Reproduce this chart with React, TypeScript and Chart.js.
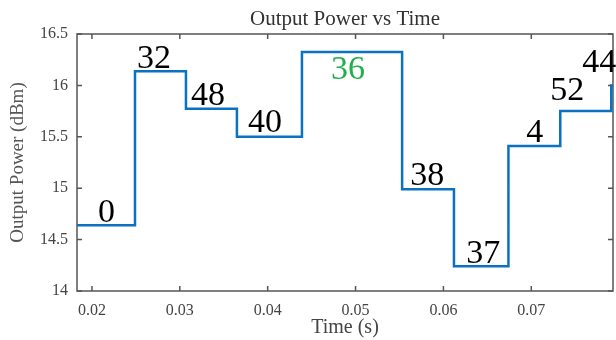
import React, { useEffect, useRef } from "react";
import { Chart, registerables } from "chart.js";

Chart.register(...registerables);

// Step function: each value holds from its time until the next time
const stepTimes = [0.0183, 0.0249, 0.0307, 0.0365, 0.0439, 0.0553, 0.0612, 0.0674, 0.0733, 0.0791];
const stepPower = [14.64, 16.137, 15.773, 15.5, 16.325, 14.99, 14.24, 15.41, 15.75, 16.01];

// Annotation numbers
const labelTexts = ["0", "32", "48", "40", "36", "38", "37", "4", "52", "44"];
const labelTimes = [0.02068, 0.02513, 0.03128, 0.03777, 0.04722, 0.05622, 0.0626, 0.06943, 0.07216, 0.07581];
const labelPower = [14.674, 16.166, 15.81, 15.55, 16.06, 15.03, 14.275, 15.452, 15.858, 16.133];
const labelHighlight = [false, false, false, false, true, false, false, false, false, false];

const xTicks = [0.02, 0.03, 0.04, 0.05, 0.06, 0.07];
const yTicks = [14, 14.5, 15, 15.5, 16, 16.5];

const SERIF = "'Liberation Serif', 'Times New Roman', serif";

export default function App() {
  const ref = useRef<HTMLCanvasElement | null>(null);

  useEffect(() => {
    if (!ref.current) return;
    const boxPlugin = {
      id: "boxPlugin",
      beforeDatasetsDraw(chart: any) {
        const { ctx, chartArea } = chart;
        const xs = chart.scales.x;
        const ys = chart.scales.y;
        ctx.save();
        ctx.strokeStyle = "#555";
        ctx.lineWidth = 1.5;
        ctx.strokeRect(chartArea.left, chartArea.top, chartArea.right - chartArea.left, chartArea.bottom - chartArea.top);
        ctx.beginPath();
        const tl = 5;
        xTicks.forEach((v) => {
          const px = xs.getPixelForValue(v);
          ctx.moveTo(px, chartArea.bottom);
          ctx.lineTo(px, chartArea.bottom - tl);
          ctx.moveTo(px, chartArea.top);
          ctx.lineTo(px, chartArea.top + tl);
        });
        yTicks.forEach((v) => {
          const py = ys.getPixelForValue(v);
          ctx.moveTo(chartArea.left, py);
          ctx.lineTo(chartArea.left + tl, py);
          ctx.moveTo(chartArea.right, py);
          ctx.lineTo(chartArea.right - tl, py);
        });
        ctx.stroke();
        ctx.restore();
      },
      afterDraw(chart: any) {
        const { ctx, chartArea } = chart;
        const xs = chart.scales.x;
        const ys = chart.scales.y;
        ctx.save();
        // title
        ctx.fillStyle = "#333";
        ctx.font = `21px ${SERIF}`;
        ctx.textAlign = "center";
        ctx.textBaseline = "alphabetic";
        ctx.fillText("Output Power vs Time", (chartArea.left + chartArea.right) / 2, 25);
        // annotations
        ctx.font = `34px ${SERIF}`;
        ctx.textAlign = "left";
        labelTexts.forEach((t, i) => {
          ctx.fillStyle = labelHighlight[i] ? "#22b04b" : "#000";
          ctx.fillText(t, xs.getPixelForValue(labelTimes[i]), ys.getPixelForValue(labelPower[i]));
        });
        ctx.restore();
      },
    };

    const chart = new Chart(ref.current, {
      type: "line",
      data: {
        datasets: [
          {
            data: stepTimes.map((t, i) => ({ x: t, y: stepPower[i] })),
            stepped: true,
            borderColor: "#0a72c0",
            borderWidth: 2.5,
            pointRadius: 0,
            fill: false,
            clip: false,
          },
        ],
      },
      options: {
        animation: false,
        responsive: true,
        maintainAspectRatio: false,
        layout: { padding: { top: 34, right: 3, left: 0, bottom: 0 } },
        plugins: { legend: { display: false }, tooltip: { enabled: false }, title: { display: false } },
        scales: {
          x: {
            type: "linear",
            min: 0.0183,
            max: 0.0793,
            afterBuildTicks: (s: any) => {
              s.ticks = xTicks.map((v) => ({ value: v }));
            },
            afterFit: (s: any) => {
              s.height = 49;
            },
            grid: { display: false, drawTicks: false },
            border: { display: false },
            ticks: {
              padding: 10,
              color: "#444",
              font: { family: SERIF, size: 16 },
              callback: (v: any) => Number(v).toFixed(2),
              maxRotation: 0,
            },
            title: {
              display: true,
              text: "Time (s)",
              color: "#444",
              font: { family: SERIF, size: 20 },
              padding: { top: 0, bottom: 0 },
            },
          },
          y: {
            min: 14,
            max: 16.5,
            afterBuildTicks: (s: any) => {
              s.ticks = yTicks.map((v) => ({ value: v }));
            },
            afterFit: (s: any) => {
              s.width = 77;
            },
            grid: { display: false, drawTicks: false },
            border: { display: false },
            ticks: {
              padding: 9,
              color: "#444",
              font: { family: SERIF, size: 16 },
              callback: (v: any) => String(v),
            },
            title: {
              display: true,
              text: "Output Power (dBm)",
              color: "#555",
              font: { family: SERIF, size: 19 },
              padding: { top: 7, bottom: 0 },
            },
          },
        },
      },
      plugins: [boxPlugin],
    });
    return () => chart.destroy();
  }, []);

  return (
    <div style={{ position: "absolute", left: 0, top: 0, width: 616, height: 340, background: "#fff" }}>
      <canvas ref={ref} />
    </div>
  );
}
